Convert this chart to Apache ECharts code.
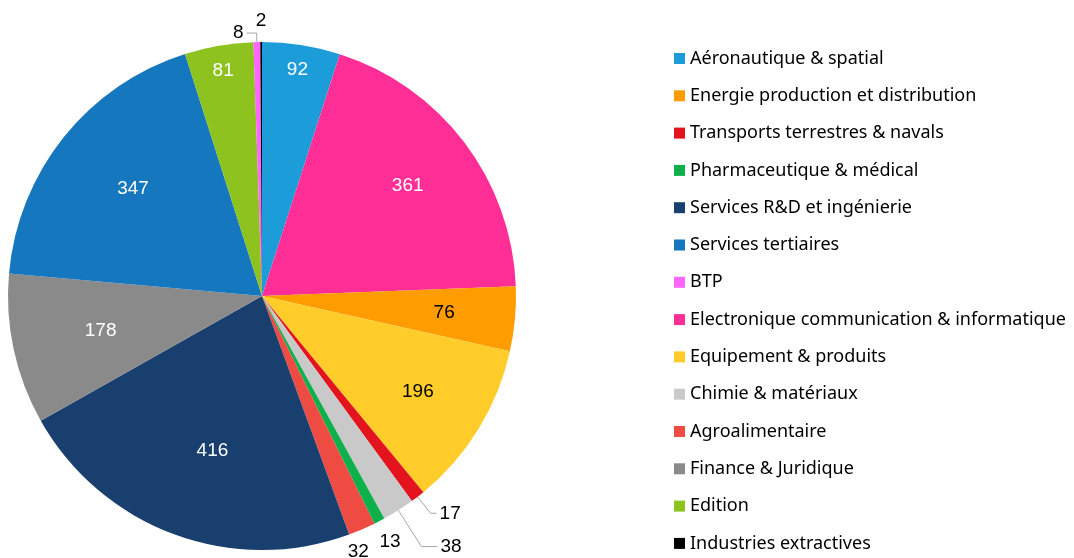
<!DOCTYPE html>
<html>
<head>
<meta charset="utf-8">
<title>Répartition par secteur</title>
<script src="https://cdn.jsdelivr.net/npm/echarts@6/dist/echarts.min.js"></script>
<style>
  html, body { margin: 0; padding: 0; background: #fff; }
  #chart { width: 1074px; height: 558px; }
</style>
</head>
<body>
<div id="chart"></div>
<script>
  // pie order, clockwise from 12 o'clock
  const sectors = [
    'Aéronautique & spatial',
    'Electronique communication & informatique',
    'Energie production et distribution',
    'Equipement & produits',
    'Transports terrestres & navals',
    'Chimie & matériaux',
    'Pharmaceutique & médical',
    'Agroalimentaire',
    'Services R&D et ingénierie',
    'Finance & Juridique',
    'Services tertiaires',
    'Edition',
    'BTP',
    'Industries extractives'
  ]
  const counts = [92, 361, 76, 196, 17, 38, 13, 32, 416, 178, 347, 81, 8, 2]

  // legend order
  const legendOrder = [
    'Aéronautique & spatial',
    'Energie production et distribution',
    'Transports terrestres & navals',
    'Pharmaceutique & médical',
    'Services R&D et ingénierie',
    'Services tertiaires',
    'BTP',
    'Electronique communication & informatique',
    'Equipement & produits',
    'Chimie & matériaux',
    'Agroalimentaire',
    'Finance & Juridique',
    'Edition',
    'Industries extractives'
  ]

  const colors = {
    'Aéronautique & spatial': '#1c9cd8',
    'Electronique communication & informatique': '#ff2d96',
    'Energie production et distribution': '#ff9c00',
    'Equipement & produits': '#ffcc29',
    'Transports terrestres & navals': '#e3141e',
    'Chimie & matériaux': '#c9c9c9',
    'Pharmaceutique & médical': '#0db04b',
    'Agroalimentaire': '#ee4b43',
    'Services R&D et ingénierie': '#183f6e',
    'Finance & Juridique': '#8a8a8a',
    'Services tertiaires': '#1577bd',
    'Edition': '#8dc21f',
    'BTP': '#ff66ff',
    'Industries extractives': '#000000'
  }

  // label placement: [radius factor, angle shift in degrees, colour]
  // null -> native outside label with leader line
  const labelPlace = {
    'Aéronautique & spatial': [0.9, 0, '#fff'],
    'Electronique communication & informatique': [0.72, 0, '#fff'],
    'Energie production et distribution': [0.72, 0, '#000'],
    'Equipement & produits': [0.72, 0, '#000'],
    'Transports terrestres & navals': null,
    'Chimie & matériaux': null,
    'Pharmaceutique & médical': [1.09, 0, '#000'],
    'Agroalimentaire': [1.075, 2.5, '#000'],
    'Services R&D et ingénierie': [0.64, -2.5, '#fff'],
    'Finance & Juridique': [0.65, 0, '#fff'],
    'Services tertiaires': [0.66, 1, '#fff'],
    'Edition': [0.9, 0, '#fff'],
    'BTP': null,
    'Industries extractives': [1.085, 0, '#000']
  }
  const leaderLines = {
    'Transports terrestres & navals': [21, 6],
    'Chimie & matériaux': [43, 16],
    'BTP': [9, 10]
  }

  const cx = 262, cy = 296, R = 254

  const total = counts.reduce((a, b) => a + b, 0)
  const midAngles = []
  let acc = 0
  counts.forEach(v => {
    midAngles.push((acc + v / 2) / total * 2 * Math.PI)
    acc += v
  })

  const pieData = sectors.map((name, i) => {
    const item = {
      name: name,
      value: counts[i],
      itemStyle: {color: colors[name]}
    }
    const lp = labelPlace[name]
    if (lp) {
      item.label = {position: 'inside', color: lp[2]}
      item.labelLine = {show: false}
    } else {
      const ll = leaderLines[name]
      item.label = {position: 'outside', color: '#000'}
      item.labelLine = {show: true, length: ll[0], length2: ll[1]}
    }
    return item
  })

  const chart = echarts.init(document.getElementById('chart'))
  const option = {
    animation: false,
    legend: {
      orient: 'vertical',
      left: 674,
      top: 48.5,
      height: 520,
      padding: 0,
      icon: 'rect',
      itemWidth: 11,
      itemHeight: 11,
      itemGap: 17.3,
      selectedMode: false,
      data: legendOrder,
      textStyle: {
        fontFamily: 'Noto Sans',
        fontSize: 18,
        lineHeight: 20,
        color: '#000'
      }
    },
    series: [{
      type: 'pie',
      center: [cx, cy],
      radius: R,
      startAngle: 90,
      clockwise: true,
      avoidLabelOverlap: false,
      silent: true,
      itemStyle: {borderWidth: 0},
      label: {
        show: true,
        formatter: '{c}',
        fontFamily: 'Liberation Sans',
        fontSize: 19,
        distanceToLabelLine: 3
      },
      labelLine: {
        lineStyle: {color: '#a6a6a6', width: 1}
      },
      labelLayout: function (params) {
        const name = sectors[params.dataIndex]
        const lp = labelPlace[name]
        if (!lp) {
          return {}
        }
        const a = midAngles[params.dataIndex] + lp[1] * Math.PI / 180
        return {
          x: cx + lp[0] * R * Math.sin(a),
          y: cy - lp[0] * R * Math.cos(a),
          align: 'center',
          verticalAlign: 'middle'
        }
      },
      data: pieData
    }]
  }
  chart.setOption(option)
</script>
</body>
</html>
